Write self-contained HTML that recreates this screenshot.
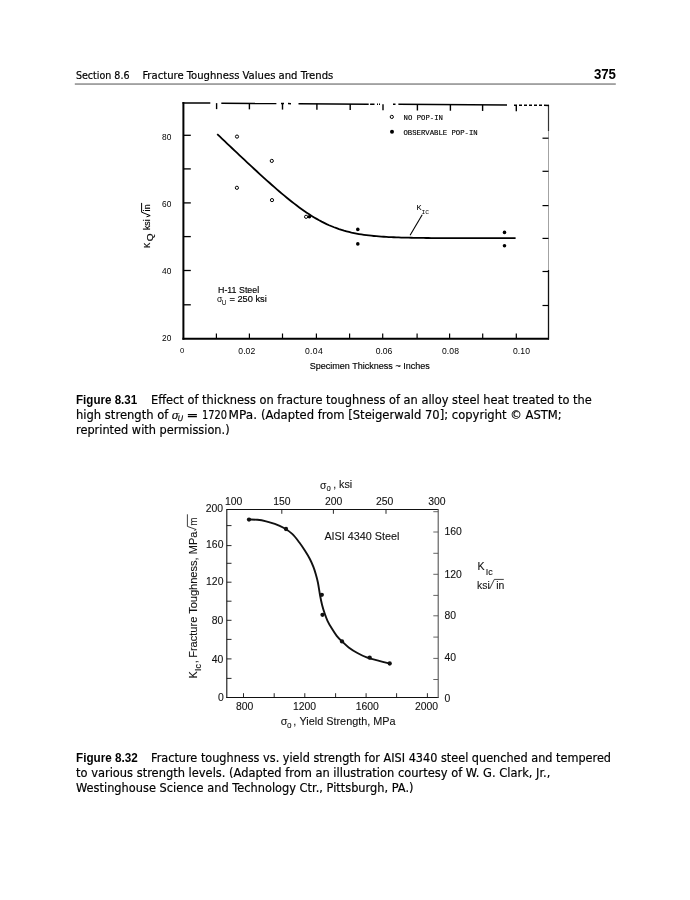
<!DOCTYPE html>
<html><head><meta charset="utf-8"><title>Fracture Toughness Values and Trends</title>
<style>
html,body{margin:0;padding:0;background:#fff;}
body{width:690px;height:900px;overflow:hidden;}
svg{display:block;}
.f2 text{stroke:#111;stroke-width:0.1px;}
.cap{stroke:#000;stroke-width:0.18px;}
.f1{stroke:#000;stroke-width:0.15px;}
</style></head>
<body>
<svg width="690" height="900" viewBox="0 0 690 900">
<rect x="0" y="0" width="690" height="900" fill="#fff"/>
<text x="75.9" y="79" font-size="11" font-family="'DejaVu Sans Condensed', 'DejaVu Sans', sans-serif" textLength="53.6" lengthAdjust="spacingAndGlyphs" class="cap">Section 8.6</text>
<text x="142.4" y="79" font-size="11" font-family="'DejaVu Sans Condensed', 'DejaVu Sans', sans-serif" textLength="190.9" lengthAdjust="spacingAndGlyphs" class="cap">Fracture Toughness Values and Trends</text>
<text x="593.9" y="78.95" font-size="14" font-family="'Liberation Sans', Arial, sans-serif" font-weight="bold" textLength="22.1" lengthAdjust="spacingAndGlyphs" >375</text>
<rect x="74.8" y="83.4" width="541" height="1.3" fill="#7a7a7a"/>
<line x1="183.4" y1="102.0" x2="183.4" y2="339.7" stroke="#000" stroke-width="2.0" />
<line x1="182.4" y1="338.7" x2="549.0" y2="338.7" stroke="#000" stroke-width="2.0" />
<line x1="548.5" y1="104.8" x2="548.5" y2="131" stroke="#333" stroke-width="1.2" />
<line x1="548.5" y1="131" x2="548.5" y2="270" stroke="#999" stroke-width="0.9" />
<line x1="548.5" y1="270" x2="548.5" y2="339.5" stroke="#111" stroke-width="1.3" />
<line x1="182.5" y1="102.9" x2="210.3" y2="103.09" stroke="#000" stroke-width="1.5" />
<line x1="221.3" y1="103.16" x2="276.4" y2="103.54" stroke="#000" stroke-width="1.5" />
<line x1="281" y1="103.57" x2="284" y2="103.59" stroke="#000" stroke-width="1.5" />
<line x1="288" y1="103.62" x2="291" y2="103.64" stroke="#000" stroke-width="1.5" />
<line x1="298.5" y1="103.69" x2="368.7" y2="104.17" stroke="#000" stroke-width="1.5" />
<line x1="370.1" y1="104.18" x2="374.5" y2="104.21" stroke="#000" stroke-width="1.5" />
<line x1="377" y1="104.23" x2="378" y2="104.23" stroke="#000" stroke-width="1.5" />
<line x1="379" y1="104.24" x2="380" y2="104.25" stroke="#000" stroke-width="1.5" />
<line x1="393" y1="104.33" x2="395.5" y2="104.35" stroke="#000" stroke-width="1.5" />
<line x1="398.4" y1="104.37" x2="507" y2="105.11" stroke="#000" stroke-width="1.5" />
<line x1="514" y1="105.16" x2="517" y2="105.18" stroke="#000" stroke-width="1.5" />
<line x1="519" y1="105.2" x2="522" y2="105.22" stroke="#000" stroke-width="1.5" />
<line x1="524" y1="105.23" x2="527" y2="105.25" stroke="#000" stroke-width="1.5" />
<line x1="529" y1="105.26" x2="532" y2="105.28" stroke="#000" stroke-width="1.5" />
<line x1="534" y1="105.3" x2="537" y2="105.32" stroke="#000" stroke-width="1.5" />
<line x1="539" y1="105.33" x2="542" y2="105.35" stroke="#000" stroke-width="1.5" />
<line x1="544" y1="105.37" x2="549" y2="105.4" stroke="#000" stroke-width="1.5" />
<line x1="216.6" y1="103.13" x2="216.6" y2="109.13" stroke="#000" stroke-width="1.4" />
<line x1="249.4" y1="103.35" x2="249.4" y2="109.35" stroke="#000" stroke-width="1.4" />
<line x1="282.5" y1="103.58" x2="282.5" y2="109.58" stroke="#000" stroke-width="1.4" />
<line x1="316.9" y1="103.81" x2="316.9" y2="109.81" stroke="#000" stroke-width="1.4" />
<line x1="350.2" y1="104.04" x2="350.2" y2="110.04" stroke="#000" stroke-width="1.4" />
<line x1="383.0" y1="104.27" x2="383.0" y2="110.27" stroke="#000" stroke-width="1.4" />
<line x1="417.4" y1="104.5" x2="417.4" y2="110.5" stroke="#000" stroke-width="1.4" />
<line x1="450.4" y1="104.73" x2="450.4" y2="110.73" stroke="#000" stroke-width="1.4" />
<line x1="482.6" y1="104.95" x2="482.6" y2="110.95" stroke="#000" stroke-width="1.4" />
<line x1="516.3" y1="105.18" x2="516.3" y2="111.18" stroke="#000" stroke-width="1.4" />
<line x1="183.4" y1="135.3" x2="190.8" y2="135.3" stroke="#000" stroke-width="1.3" />
<line x1="183.4" y1="168.9" x2="190.8" y2="168.9" stroke="#000" stroke-width="1.3" />
<line x1="183.4" y1="202.9" x2="190.8" y2="202.9" stroke="#000" stroke-width="1.3" />
<line x1="183.4" y1="236.6" x2="190.8" y2="236.6" stroke="#000" stroke-width="1.3" />
<line x1="183.4" y1="270.5" x2="190.8" y2="270.5" stroke="#000" stroke-width="1.3" />
<line x1="183.4" y1="304.8" x2="190.8" y2="304.8" stroke="#000" stroke-width="1.3" />
<line x1="542.5" y1="138.2" x2="548.5" y2="138.2" stroke="#000" stroke-width="1.2" />
<line x1="542.5" y1="171.3" x2="548.5" y2="171.3" stroke="#000" stroke-width="1.2" />
<line x1="542.5" y1="205.6" x2="548.5" y2="205.6" stroke="#000" stroke-width="1.2" />
<line x1="542.5" y1="238.4" x2="548.5" y2="238.4" stroke="#000" stroke-width="1.2" />
<line x1="542.5" y1="271.5" x2="548.5" y2="271.5" stroke="#000" stroke-width="1.2" />
<line x1="542.5" y1="305.5" x2="548.5" y2="305.5" stroke="#000" stroke-width="1.2" />
<line x1="216.4" y1="333.5" x2="216.4" y2="338" stroke="#000" stroke-width="1.2" />
<line x1="249.4" y1="333.5" x2="249.4" y2="338" stroke="#000" stroke-width="1.2" />
<line x1="282.5" y1="333.5" x2="282.5" y2="338" stroke="#000" stroke-width="1.2" />
<line x1="316.4" y1="333.5" x2="316.4" y2="338" stroke="#000" stroke-width="1.2" />
<line x1="349.6" y1="333.5" x2="349.6" y2="338" stroke="#000" stroke-width="1.2" />
<line x1="382.7" y1="333.5" x2="382.7" y2="338" stroke="#000" stroke-width="1.2" />
<line x1="417.1" y1="333.5" x2="417.1" y2="338" stroke="#000" stroke-width="1.2" />
<line x1="449.6" y1="333.5" x2="449.6" y2="338" stroke="#000" stroke-width="1.2" />
<line x1="482.7" y1="333.5" x2="482.7" y2="338" stroke="#000" stroke-width="1.2" />
<line x1="516.3" y1="333.5" x2="516.3" y2="338" stroke="#000" stroke-width="1.2" />
<text x="162" y="139.7" font-size="9" font-family="'Liberation Sans', Arial, sans-serif" textLength="9.3" lengthAdjust="spacingAndGlyphs" >80</text>
<text x="162" y="207.0" font-size="9" font-family="'Liberation Sans', Arial, sans-serif" textLength="9.3" lengthAdjust="spacingAndGlyphs" >60</text>
<text x="162" y="274.2" font-size="9" font-family="'Liberation Sans', Arial, sans-serif" textLength="9.3" lengthAdjust="spacingAndGlyphs" >40</text>
<text x="162" y="340.59999999999997" font-size="9" font-family="'Liberation Sans', Arial, sans-serif" textLength="9.3" lengthAdjust="spacingAndGlyphs" >20</text>
<text x="180" y="352.6" font-size="8" font-family="'Liberation Sans', Arial, sans-serif" textLength="4.3" lengthAdjust="spacingAndGlyphs" >0</text>
<text x="238.3" y="354.2" font-size="8.6" font-family="'Liberation Sans', Arial, sans-serif" textLength="16.9" lengthAdjust="spacing">0.02</text>
<text x="305" y="354.2" font-size="8.6" font-family="'Liberation Sans', Arial, sans-serif" textLength="17.7" lengthAdjust="spacing">0.04</text>
<text x="375.8" y="354.2" font-size="8.6" font-family="'Liberation Sans', Arial, sans-serif" textLength="16.5" lengthAdjust="spacing">0.06</text>
<text x="441.9" y="354.2" font-size="8.6" font-family="'Liberation Sans', Arial, sans-serif" textLength="17.1" lengthAdjust="spacing">0.08</text>
<text x="513" y="354.2" font-size="8.6" font-family="'Liberation Sans', Arial, sans-serif" textLength="17" lengthAdjust="spacing">0.10</text>
<text x="309.7" y="368.8" font-size="9.2" font-family="'Liberation Sans', Arial, sans-serif" textLength="120.1" lengthAdjust="spacingAndGlyphs" class="f1">Specimen Thickness ~ Inches</text>
<g transform="translate(149.8,248.3) rotate(-90)" class="f1"><text x="0.2" y="0" font-size="9.3" font-family="'Liberation Sans', Arial, sans-serif" textLength="5.4" lengthAdjust="spacingAndGlyphs">K</text><text x="7" y="3.0" font-size="9.6" font-family="'Liberation Sans', Arial, sans-serif" textLength="7.8" lengthAdjust="spacingAndGlyphs">Q</text><text x="18.2" y="0" font-size="9.3" font-family="'Liberation Sans', Arial, sans-serif" textLength="10.8" lengthAdjust="spacingAndGlyphs">ksi</text></g>
<g transform="translate(149.9,211) rotate(-90)" class="f1"><text x="-0.5" y="0" font-size="9.2" font-family="'Liberation Sans', Arial, sans-serif">i</text><text x="1.7" y="0" font-size="8.8" font-family="'Liberation Sans', Arial, sans-serif">n</text></g>
<path d="M146.5,216.8 L150.2,215.6 L141.6,212.2 L141.6,202.9" stroke="#000" stroke-width="1.0" fill="none" stroke-linejoin="miter"/>
<circle cx="391.8" cy="116.9" r="1.6" fill="none" stroke="#000" stroke-width="1.0"/>
<circle cx="392.0" cy="131.8" r="2.0" fill="#000"/>
<text x="403.5" y="120.3" font-size="7.6" font-family="'Liberation Mono', 'DejaVu Sans Mono', monospace" textLength="39.5" lengthAdjust="spacingAndGlyphs" class="f1">NO POP-IN</text>
<text x="403.5" y="134.5" font-size="7.6" font-family="'Liberation Mono', 'DejaVu Sans Mono', monospace" textLength="74.2" lengthAdjust="spacingAndGlyphs" class="f1">OBSERVABLE POP-IN</text>
<text x="218.0" y="292.8" font-size="8.2" font-family="'Liberation Sans', Arial, sans-serif" textLength="41.2" lengthAdjust="spacingAndGlyphs" class="f1">H-11 Steel</text>
<text x="217.1" y="301.8" font-size="8.6" font-family="'Liberation Sans', Arial, sans-serif">&#963;</text>
<text x="221.8" y="304.6" font-size="6.5" font-family="'Liberation Sans', Arial, sans-serif">U</text>
<text x="229.4" y="301.8" font-size="8.4" font-family="'Liberation Sans', Arial, sans-serif" textLength="37.4" lengthAdjust="spacingAndGlyphs" class="f1">= 250 ksi</text>
<path d="M217.20,134.08 L219.69,136.45 L222.17,138.81 L224.66,141.18 L227.15,143.54 L229.63,145.90 L232.12,148.25 L234.61,150.61 L237.09,152.95 L239.58,155.30 L242.07,157.63 L244.55,159.96 L247.04,162.29 L249.53,164.61 L252.01,166.92 L254.50,169.22 L256.99,171.51 L259.47,173.79 L261.96,176.06 L264.45,178.31 L266.93,180.55 L269.42,182.77 L271.91,184.98 L274.39,187.16 L276.88,189.33 L279.37,191.47 L281.85,193.58 L284.34,195.66 L286.83,197.71 L289.31,199.73 L291.80,201.72 L294.29,203.66 L296.77,205.56 L299.26,207.41 L301.75,209.22 L304.23,210.98 L306.72,212.68 L309.21,214.32 L311.69,215.91 L314.18,217.44 L316.67,218.90 L319.15,220.30 L321.64,221.63 L324.13,222.89 L326.61,224.09 L329.10,225.22 L331.59,226.28 L334.07,227.28 L336.56,228.21 L339.05,229.08 L341.53,229.88 L344.02,230.63 L346.51,231.32 L348.99,231.96 L351.48,232.55 L353.97,233.08 L356.45,233.57 L358.94,234.02 L361.43,234.43 L363.91,234.80 L366.40,235.14 L368.89,235.45 L371.37,235.73 L373.86,235.98 L376.35,236.20 L378.83,236.41 L381.32,236.59 L383.81,236.76 L386.29,236.91 L388.78,237.04 L391.27,237.16 L393.75,237.27 L396.24,237.37 L398.73,237.46 L401.21,237.53 L403.70,237.60 L406.19,237.67 L408.67,237.72 L411.16,237.77 L413.65,237.82 L416.13,237.86 L418.62,237.90 L421.11,237.93 L423.59,237.96 L426.08,237.98 L428.57,238.01 L431.05,238.03 L433.54,238.05 L436.03,238.06 L438.51,238.08 L441.00,238.09 L443.49,238.10 L445.97,238.11 L448.46,238.12 L450.95,238.13 L453.43,238.14 L455.92,238.14 L458.41,238.15 L460.89,238.16 L463.38,238.16 L465.87,238.16 L468.35,238.17 L470.84,238.17 L473.33,238.17 L475.81,238.18 L478.30,238.18 L480.79,238.18 L483.27,238.18 L485.76,238.19 L488.25,238.19 L490.73,238.19 L493.22,238.19 L495.71,238.19 L498.19,238.19 L500.68,238.19 L503.17,238.19 L505.65,238.19 L508.14,238.19 L510.63,238.20 L513.11,238.20 L515.60,238.20" stroke="#000" stroke-width="1.8" fill="none" stroke-linejoin="round"/>
<circle cx="237" cy="136.6" r="1.6" fill="none" stroke="#000" stroke-width="1.0"/>
<circle cx="271.8" cy="160.9" r="1.6" fill="none" stroke="#000" stroke-width="1.0"/>
<circle cx="236.9" cy="187.8" r="1.6" fill="none" stroke="#000" stroke-width="1.0"/>
<circle cx="272" cy="200.1" r="1.6" fill="none" stroke="#000" stroke-width="1.0"/>
<circle cx="306.1" cy="216.8" r="1.6" fill="none" stroke="#000" stroke-width="1.0"/>
<circle cx="309.4" cy="216.8" r="1.8" fill="#000"/>
<circle cx="357.8" cy="229.4" r="1.8" fill="#000"/>
<circle cx="357.8" cy="243.9" r="1.8" fill="#000"/>
<circle cx="504.5" cy="232.4" r="1.8" fill="#000"/>
<circle cx="504.5" cy="245.7" r="1.8" fill="#000"/>
<text x="416.4" y="209.8" font-size="7" font-family="'Liberation Mono', 'DejaVu Sans Mono', monospace" textLength="5.1" lengthAdjust="spacingAndGlyphs" >K</text>
<text x="421.5" y="214.3" font-size="6.2" font-family="'Liberation Mono', 'DejaVu Sans Mono', monospace" textLength="7.6" lengthAdjust="spacingAndGlyphs" >IC</text>
<line x1="422.2" y1="214.8" x2="410.1" y2="235.2" stroke="#000" stroke-width="1.1" />
<text x="76.0" y="404.0" font-size="12.1" font-family="'Liberation Sans', Arial, sans-serif" font-weight="bold" textLength="61.2" lengthAdjust="spacingAndGlyphs" >Figure 8.31</text>
<text x="151" y="404.1" font-size="11.4" font-family="'DejaVu Sans', 'Liberation Sans', sans-serif" textLength="440.7" lengthAdjust="spacingAndGlyphs" class="cap">Effect of thickness on fracture toughness of an alloy steel heat treated to the</text>
<text x="76" y="418.8" font-size="11.4" font-family="'DejaVu Sans', 'Liberation Sans', sans-serif" textLength="92.3" lengthAdjust="spacingAndGlyphs" class="cap">high strength of</text>
<text x="171.8" y="418.8" font-size="10.6" font-family="'DejaVu Serif', serif" font-style="italic" fill="#000" class="cap">&#963;</text>
<text x="177.8" y="420.9" font-size="7.4" font-family="'DejaVu Sans', 'Liberation Sans', sans-serif" font-style="italic" fill="#000" class="cap">U</text>
<text x="186.5" y="418.8" font-size="11.4" font-family="'DejaVu Sans', 'Liberation Sans', sans-serif" textLength="11.8" lengthAdjust="spacingAndGlyphs" class="cap">=</text>
<text x="201.9" y="418.8" font-size="11.4" font-family="'DejaVu Sans', 'Liberation Sans', sans-serif" textLength="25.1" lengthAdjust="spacingAndGlyphs" class="cap">1720</text>
<text x="228.6" y="418.8" font-size="11.4" font-family="'DejaVu Sans', 'Liberation Sans', sans-serif" textLength="28.4" lengthAdjust="spacingAndGlyphs" class="cap">MPa.</text>
<text x="261.0" y="418.8" font-size="11.4" font-family="'DejaVu Sans', 'Liberation Sans', sans-serif" textLength="300.7" lengthAdjust="spacingAndGlyphs" class="cap">(Adapted from [Steigerwald 70]; copyright © ASTM;</text>
<text x="76" y="433.7" font-size="11.4" font-family="'DejaVu Sans', 'Liberation Sans', sans-serif" textLength="153.6" lengthAdjust="spacingAndGlyphs" class="cap">reprinted with permission.)</text>
<g class="f2">
<line x1="226.8" y1="509.5" x2="438.2" y2="509.5" stroke="#111" stroke-width="1.1" />
<line x1="226.8" y1="509.0" x2="226.8" y2="698.0" stroke="#111" stroke-width="1.1" />
<line x1="226.3" y1="697.5" x2="438.6" y2="697.5" stroke="#111" stroke-width="1.1" />
<line x1="438.2" y1="509.0" x2="438.2" y2="698.0" stroke="#555" stroke-width="1.1" />
<line x1="226.8" y1="525.6" x2="231.5" y2="525.6" stroke="#111" stroke-width="0.9" />
<line x1="226.8" y1="545.6" x2="231.5" y2="545.6" stroke="#111" stroke-width="0.9" />
<line x1="226.8" y1="563.3" x2="231.5" y2="563.3" stroke="#111" stroke-width="0.9" />
<line x1="226.8" y1="582.2" x2="231.5" y2="582.2" stroke="#111" stroke-width="0.9" />
<line x1="226.8" y1="601.2" x2="231.5" y2="601.2" stroke="#111" stroke-width="0.9" />
<line x1="226.8" y1="620.3" x2="231.5" y2="620.3" stroke="#111" stroke-width="0.9" />
<line x1="226.8" y1="639.4" x2="231.5" y2="639.4" stroke="#111" stroke-width="0.9" />
<line x1="226.8" y1="658.9" x2="231.5" y2="658.9" stroke="#111" stroke-width="0.9" />
<line x1="226.8" y1="678.4" x2="231.5" y2="678.4" stroke="#111" stroke-width="0.9" />
<line x1="433.3" y1="511.7" x2="438.2" y2="511.7" stroke="#555" stroke-width="0.9" />
<line x1="433.3" y1="532" x2="438.2" y2="532" stroke="#555" stroke-width="0.9" />
<line x1="433.3" y1="553.3" x2="438.2" y2="553.3" stroke="#555" stroke-width="0.9" />
<line x1="433.3" y1="574.3" x2="438.2" y2="574.3" stroke="#555" stroke-width="0.9" />
<line x1="433.3" y1="595.4" x2="438.2" y2="595.4" stroke="#555" stroke-width="0.9" />
<line x1="433.3" y1="615.8" x2="438.2" y2="615.8" stroke="#555" stroke-width="0.9" />
<line x1="433.3" y1="637.1" x2="438.2" y2="637.1" stroke="#555" stroke-width="0.9" />
<line x1="433.3" y1="658.4" x2="438.2" y2="658.4" stroke="#555" stroke-width="0.9" />
<line x1="433.3" y1="679.5" x2="438.2" y2="679.5" stroke="#555" stroke-width="0.9" />
<line x1="281.8" y1="509.5" x2="281.8" y2="513.8" stroke="#111" stroke-width="0.9" />
<line x1="333.4" y1="509.5" x2="333.4" y2="513.8" stroke="#111" stroke-width="0.9" />
<line x1="386.0" y1="509.5" x2="386.0" y2="513.8" stroke="#111" stroke-width="0.9" />
<line x1="243.5" y1="693.2" x2="243.5" y2="697.5" stroke="#111" stroke-width="0.9" />
<line x1="274.2" y1="693.2" x2="274.2" y2="697.5" stroke="#111" stroke-width="0.9" />
<line x1="304.8" y1="693.2" x2="304.8" y2="697.5" stroke="#111" stroke-width="0.9" />
<line x1="335.6" y1="693.2" x2="335.6" y2="697.5" stroke="#111" stroke-width="0.9" />
<line x1="366.1" y1="693.2" x2="366.1" y2="697.5" stroke="#111" stroke-width="0.9" />
<line x1="396.6" y1="693.2" x2="396.6" y2="697.5" stroke="#111" stroke-width="0.9" />
<line x1="427.4" y1="693.2" x2="427.4" y2="697.5" stroke="#111" stroke-width="0.9" />
<text x="205.8" y="512" font-size="10.4" font-family="'Liberation Sans', Arial, sans-serif" fill="#111" >200</text>
<text x="206.1" y="547.8" font-size="10.4" font-family="'Liberation Sans', Arial, sans-serif" fill="#111" >160</text>
<text x="206.1" y="585" font-size="10.4" font-family="'Liberation Sans', Arial, sans-serif" fill="#111" >120</text>
<text x="211.7" y="623.9" font-size="10.4" font-family="'Liberation Sans', Arial, sans-serif" fill="#111" >80</text>
<text x="211.7" y="663.3" font-size="10.4" font-family="'Liberation Sans', Arial, sans-serif" fill="#111" >40</text>
<text x="218" y="700.7" font-size="10.4" font-family="'Liberation Sans', Arial, sans-serif" fill="#111" >0</text>
<text x="444.5" y="534.6" font-size="10.4" font-family="'Liberation Sans', Arial, sans-serif" fill="#111" >160</text>
<text x="444.5" y="577.7" font-size="10.4" font-family="'Liberation Sans', Arial, sans-serif" fill="#111" >120</text>
<text x="444.5" y="619.2" font-size="10.4" font-family="'Liberation Sans', Arial, sans-serif" fill="#111" >80</text>
<text x="444.5" y="661" font-size="10.4" font-family="'Liberation Sans', Arial, sans-serif" fill="#111" >40</text>
<text x="444.5" y="701.9" font-size="10.4" font-family="'Liberation Sans', Arial, sans-serif" fill="#111" >0</text>
<text x="224.9" y="505.3" font-size="10.4" font-family="'Liberation Sans', Arial, sans-serif" fill="#111" >100</text>
<text x="273.3" y="505.3" font-size="10.4" font-family="'Liberation Sans', Arial, sans-serif" fill="#111" >150</text>
<text x="325" y="505.3" font-size="10.4" font-family="'Liberation Sans', Arial, sans-serif" fill="#111" >200</text>
<text x="376" y="505.3" font-size="10.4" font-family="'Liberation Sans', Arial, sans-serif" fill="#111" >250</text>
<text x="428.3" y="505.3" font-size="10.4" font-family="'Liberation Sans', Arial, sans-serif" fill="#111" >300</text>
<text x="235.9" y="710.2" font-size="10.4" font-family="'Liberation Sans', Arial, sans-serif" fill="#111" >800</text>
<text x="293" y="710.2" font-size="10.4" font-family="'Liberation Sans', Arial, sans-serif" fill="#111" >1200</text>
<text x="355.7" y="710.2" font-size="10.4" font-family="'Liberation Sans', Arial, sans-serif" fill="#111" >1600</text>
<text x="415" y="710.2" font-size="10.4" font-family="'Liberation Sans', Arial, sans-serif" fill="#111" >2000</text>
<text x="320" y="489" font-size="10.4" font-family="'Liberation Sans', Arial, sans-serif" fill="#111">&#963;</text>
<text x="326.6" y="490.8" font-size="8.2" font-family="'Liberation Sans', Arial, sans-serif" fill="#111" textLength="4.3" lengthAdjust="spacingAndGlyphs">o</text>
<text x="333.3" y="488.2" font-size="10.4" font-family="'Liberation Sans', Arial, sans-serif" fill="#111" >,</text>
<text x="339.0" y="488.2" font-size="10.4" font-family="'Liberation Sans', Arial, sans-serif" textLength="13.2" lengthAdjust="spacingAndGlyphs" fill="#111" >ksi</text>
<text x="280.7" y="725.3" font-size="10.8" font-family="'Liberation Sans', Arial, sans-serif" fill="#111">&#963;</text>
<text x="286.9" y="727.7" font-size="9" font-family="'Liberation Sans', Arial, sans-serif" fill="#111" textLength="4.5" lengthAdjust="spacingAndGlyphs">o</text>
<text x="293.2" y="725.3" font-size="10.8" font-family="'Liberation Sans', Arial, sans-serif" fill="#111" >,</text>
<text x="299.5" y="725.3" font-size="10.8" font-family="'Liberation Sans', Arial, sans-serif" textLength="96.1" lengthAdjust="spacingAndGlyphs" fill="#111" >Yield Strength, MPa</text>
<text x="324.4" y="539.8" font-size="10.5" font-family="'Liberation Sans', Arial, sans-serif" textLength="75.1" lengthAdjust="spacingAndGlyphs" fill="#111" >AISI 4340 Steel</text>
<text x="477.4" y="569.9" font-size="10.6" font-family="'Liberation Sans', Arial, sans-serif" fill="#111" >K</text>
<text x="485.7" y="575.1" font-size="9.7" font-family="'Liberation Sans', Arial, sans-serif" textLength="7.0" lengthAdjust="spacingAndGlyphs" fill="#111" >Ic</text>
<text x="477" y="589.3" font-size="10.4" font-family="'Liberation Sans', Arial, sans-serif" fill="#111" >ksi</text>
<path d="M488.9,587.2 L489.8,588.6 L494.3,579.4 L503.8,579.4" stroke="#111" stroke-width="0.8" fill="none" />
<text x="496.2" y="589.3" font-size="10.4" font-family="'Liberation Sans', Arial, sans-serif" fill="#111" >in</text>
<g transform="translate(197,678.4) rotate(-90)"><text x="0" y="0" font-size="10.8" font-family="'Liberation Sans', Arial, sans-serif" fill="#111" textLength="7.2" lengthAdjust="spacingAndGlyphs">K</text><text x="7.3" y="3.9" font-size="9.5" font-family="'Liberation Sans', Arial, sans-serif" fill="#111" textLength="7.0" lengthAdjust="spacingAndGlyphs">Ic</text><text x="15.2" y="0" font-size="10.8" font-family="'Liberation Sans', Arial, sans-serif" fill="#111">,</text><text x="20.6" y="0" font-size="10.8" font-family="'Liberation Sans', Arial, sans-serif" fill="#111" textLength="126.2" lengthAdjust="spacingAndGlyphs">Fracture Toughness, MPa</text><text x="152.6" y="0" font-size="10.8" font-family="'Liberation Sans', Arial, sans-serif" fill="#111" textLength="8.2" lengthAdjust="spacingAndGlyphs">m</text></g>
<path d="M194.3,530.5 L196.2,529.6 L187.4,526.4 L187.4,514.3" stroke="#111" stroke-width="0.8" fill="none" />
<path d="M249,519.5 C250.40,519.55 254.55,519.50 257.4,519.8 C260.25,520.10 263.20,520.62 266.1,521.3 C269.00,521.98 271.90,522.82 274.8,523.9 C277.70,524.98 280.60,526.13 283.5,527.8 C286.40,529.47 289.58,531.48 292.2,533.9 C294.82,536.32 297.07,539.48 299.2,542.3 C301.33,545.12 303.20,547.98 305,550.8 C306.80,553.62 308.62,556.55 310,559.2 C311.38,561.85 312.33,564.20 313.3,566.7 C314.27,569.20 315.03,571.57 315.8,574.2 C316.57,576.83 317.20,579.03 317.9,582.5 C318.60,585.97 319.30,591.25 320,595 C320.70,598.75 321.33,601.95 322.1,605 C322.87,608.05 323.70,610.67 324.6,613.3 C325.50,615.93 326.32,618.30 327.5,620.8 C328.68,623.30 330.17,625.80 331.7,628.3 C333.23,630.80 334.95,633.58 336.7,635.8 C338.45,638.02 340.20,639.67 342.2,641.6 C344.20,643.53 346.17,645.50 348.7,647.4 C351.23,649.30 354.50,651.38 357.4,653 C360.30,654.62 362.48,655.78 366.1,657.1 C369.72,658.42 375.17,659.83 379.1,660.9 C383.03,661.97 387.93,663.07 389.7,663.5" stroke="#111" stroke-width="1.9" fill="none" />
<circle cx="249" cy="519.6" r="2.15" fill="#111"/>
<circle cx="286.0" cy="529.0" r="2.15" fill="#111"/>
<circle cx="321.8" cy="594.8" r="2.15" fill="#111"/>
<circle cx="322.5" cy="614.8" r="2.15" fill="#111"/>
<circle cx="342" cy="641.4" r="2.15" fill="#111"/>
<circle cx="369.7" cy="657.7" r="2.15" fill="#111"/>
<circle cx="389.7" cy="663.5" r="2.15" fill="#111"/>
</g>
<text x="76.0" y="762" font-size="12.1" font-family="'Liberation Sans', Arial, sans-serif" font-weight="bold" textLength="61.8" lengthAdjust="spacingAndGlyphs" >Figure 8.32</text>
<text x="151" y="762" font-size="11.4" font-family="'DejaVu Sans', 'Liberation Sans', sans-serif" textLength="460" lengthAdjust="spacingAndGlyphs" class="cap">Fracture toughness vs. yield strength for AISI 4340 steel quenched and tempered</text>
<text x="76" y="776.7" font-size="11.4" font-family="'DejaVu Sans', 'Liberation Sans', sans-serif" textLength="474.4" lengthAdjust="spacingAndGlyphs" class="cap">to various strength levels. (Adapted from an illustration courtesy of W. G. Clark, Jr.,</text>
<text x="76" y="791.5" font-size="11.4" font-family="'DejaVu Sans', 'Liberation Sans', sans-serif" textLength="337.5" lengthAdjust="spacingAndGlyphs" class="cap">Westinghouse Science and Technology Ctr., Pittsburgh, PA.)</text>
</svg>
</body></html>
